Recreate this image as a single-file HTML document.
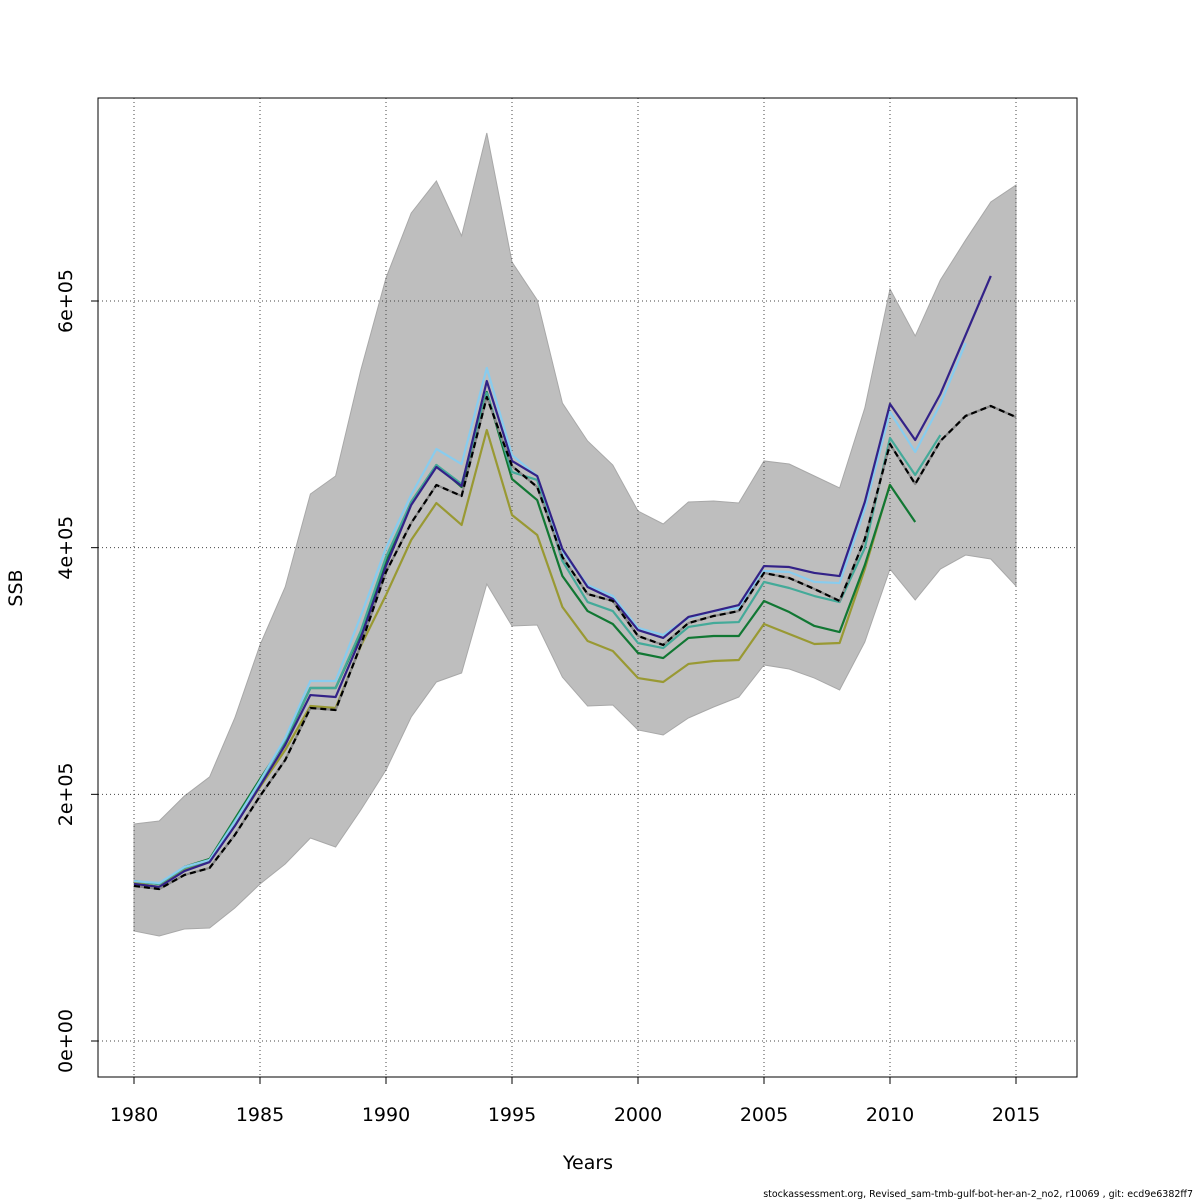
<!DOCTYPE html>
<html><head><meta charset="utf-8"><style>
body{margin:0;background:#fff}
svg{display:block;font-family:"DejaVu Sans","Liberation Sans",sans-serif}
</style></head><body>
<svg id="chart" width="1200" height="1200" viewBox="0 0 1200 1200" xmlns="http://www.w3.org/2000/svg">
<rect x="0" y="0" width="1200" height="1200" fill="#fff"/>
<g id="band"></g>
<g id="grid"></g>
<g id="lines"></g>
<rect x="98" y="98" width="979" height="979" fill="none" stroke="#000" stroke-width="1"/>
<g id="axes"></g>
<text x="588" y="1169" font-size="19" text-anchor="middle">Years</text>
<text x="22" y="588" font-size="19" text-anchor="middle" transform="rotate(-90 22 588)">SSB</text>
<text x="1193" y="1197" font-size="9.5" text-anchor="end">stockassessment.org, Revised_sam-tmb-gulf-bot-her-an-2_no2, r10069 , git: ecd9e6382ff7</text>
</svg>
<script>
const years=[];for(let y=1980;y<=2015;y++)years.push(y);
const xTicks=[1980,1985,1990,1995,2000,2005,2010,2015];
const yTicks=[0,200000,400000,600000];
const yTickLabels=["0e+00","2e+05","4e+05","6e+05"];
const upper=[175.9,178.4,198.6,214.1,261.9,321.1,368.1,443.5,458.1,544.0,618.6,671.3,697.3,652.7,736.2,631.6,600.8,517.3,486.5,467.0,429.7,419.2,437.0,437.8,436.2,470.3,467.8,458.1,448.4,513.2,609.7,571.6,617.0,649.4,680.3,694.0];
const lower=[89.2,85.1,90.8,91.6,107.8,127.3,143.5,164.6,157.3,187.3,219.7,262.7,291.1,298.4,370.5,336.5,337.3,295.1,271.6,272.4,252.2,248.1,261.9,270.8,278.9,304.9,301.6,294.3,284.6,323.5,382.7,357.6,382.7,394.0,390.8,368.9];
const ssbBase=[125.7,123.2,134.6,140.3,167.0,198.6,227.8,270.0,268.4,321.1,380.3,420.0,450.8,441.9,522.2,466.2,449.2,392.4,362.4,356.8,328.4,321.1,338.9,344.6,348.6,379.5,375.4,366.5,356.8,407.0,484.0,451.6,486.5,506.8,514.9,505.9];
const peel1=[127.3,124.9,137.8,145.1,174.3,206.8,240.0,280.5,278.9,326.8,385.1,434.6,465.4,450.0,535.1,470.3,458.1,398.9,368.1,358.4,333.2,326.8,343.8,348.6,353.5,385.1,384.3,379.5,377.0,437.0,516.5,487.3,524.6,572.4,620.3];
const peel2=[129.7,128.1,141.1,146.8,177.6,210.8,245.7,291.9,291.9,344.6,399.7,442.7,480.0,467.8,545.7,475.1,458.1,396.5,369.7,360.8,334.9,329.2,343.0,348.6,351.1,381.1,380.3,372.2,371.3,431.3,510.0,477.6,516.5,565.9];
const peel3=[129.7,127.3,140.3,146.8,178.4,210.0,244.1,286.2,286.2,332.4,392.4,437.0,467.0,451.6,525.4,461.3,454.9,389.2,355.9,348.6,322.7,318.6,335.7,338.9,339.7,372.2,367.3,360.8,355.9,399.7,488.9,458.9,491.3];
const peel4=[129.7,127.3,141.1,147.6,180.0,212.4,243.2,286.2,286.2,330.8,389.2,437.0,467.0,449.2,526.2,455.7,438.6,377.0,348.6,338.1,314.6,310.5,326.8,328.4,328.4,356.8,347.8,336.5,331.6,385.9,450.8,420.8];
const peel5=[128.1,124.9,139.5,145.1,175.1,205.9,235.9,271.6,270.0,320.3,361.6,406.2,436.2,418.4,495.4,426.5,410.3,351.9,324.3,316.2,294.3,291.1,305.7,308.1,308.9,338.1,330.0,321.9,322.7,382.7,451.6];
const UNIT=1000;
const NS="http://www.w3.org/2000/svg";
function X(yr){return 134+(yr-1980)*(1016-134)/35;}
function Y(v){return 1041-v*(1041-301)/600000;}
function mk(t,a,p){const e=document.createElementNS(NS,t);for(const k in a)e.setAttribute(k,a[k]);p.appendChild(e);return e;}
const band=document.getElementById('band'),grid=document.getElementById('grid'),lines=document.getElementById('lines'),axes=document.getElementById('axes');
let pts=years.map((yr,i)=>X(yr)+','+Y(upper[i]*UNIT));
for(let i=years.length-1;i>=0;i--)pts.push(X(years[i])+','+Y(lower[i]*UNIT));
const poly=mk('polygon',{points:pts.join(' '),fill:'#bebebe',stroke:'#a8a8a8','stroke-width':1},band);


xTicks.forEach(t=>{
 const l=mk('line',{x1:X(t),x2:X(t),y1:98,y2:1077,stroke:'#444','stroke-dasharray':'1,3','stroke-width':1},grid);
 
 
 const tk=mk('line',{x1:X(t),x2:X(t),y1:1077,y2:1084,stroke:'#000'},axes);
 
 
 const tx=mk('text',{x:X(t),y:1121,'font-size':19,'text-anchor':'middle'},axes);tx.textContent=t;
 
 
});
yTicks.forEach((t,i)=>{
 const l=mk('line',{x1:98,x2:1077,y1:Y(t),y2:Y(t),stroke:'#444','stroke-dasharray':'1,3','stroke-width':1},grid);
 
 
 const tk=mk('line',{x1:91,x2:98,y1:Y(t),y2:Y(t),stroke:'#000'},axes);
 
 
 const tx=mk('text',{x:72,y:Y(t),'font-size':19,'text-anchor':'middle',transform:'rotate(-90 72 '+Y(t)+')'},axes);tx.textContent=yTickLabels[i];
 
 
});
function line(arr,color,name,dash){
 const p=arr.map((v,i)=>X(years[i])+','+Y(v*UNIT)).join(' ');
 const e=mk('polyline',{points:p,fill:'none',stroke:color,'stroke-width':2.2,'stroke-linejoin':'round'},lines);
 if(dash)e.setAttribute('stroke-dasharray',dash);
 
 
}
line(peel5,'#999933','peel-line-5');
line(peel4,'#117733','peel-line-4');
line(peel3,'#44aa99','peel-line-3');
line(peel2,'#88ccee','peel-line-2');
line(peel1,'#332288','peel-line-1');
line(ssbBase,'#888888','ssb-base-line-under');
line(ssbBase,'#000000','ssb-base-line',"6,4");
</script>
</body></html>
